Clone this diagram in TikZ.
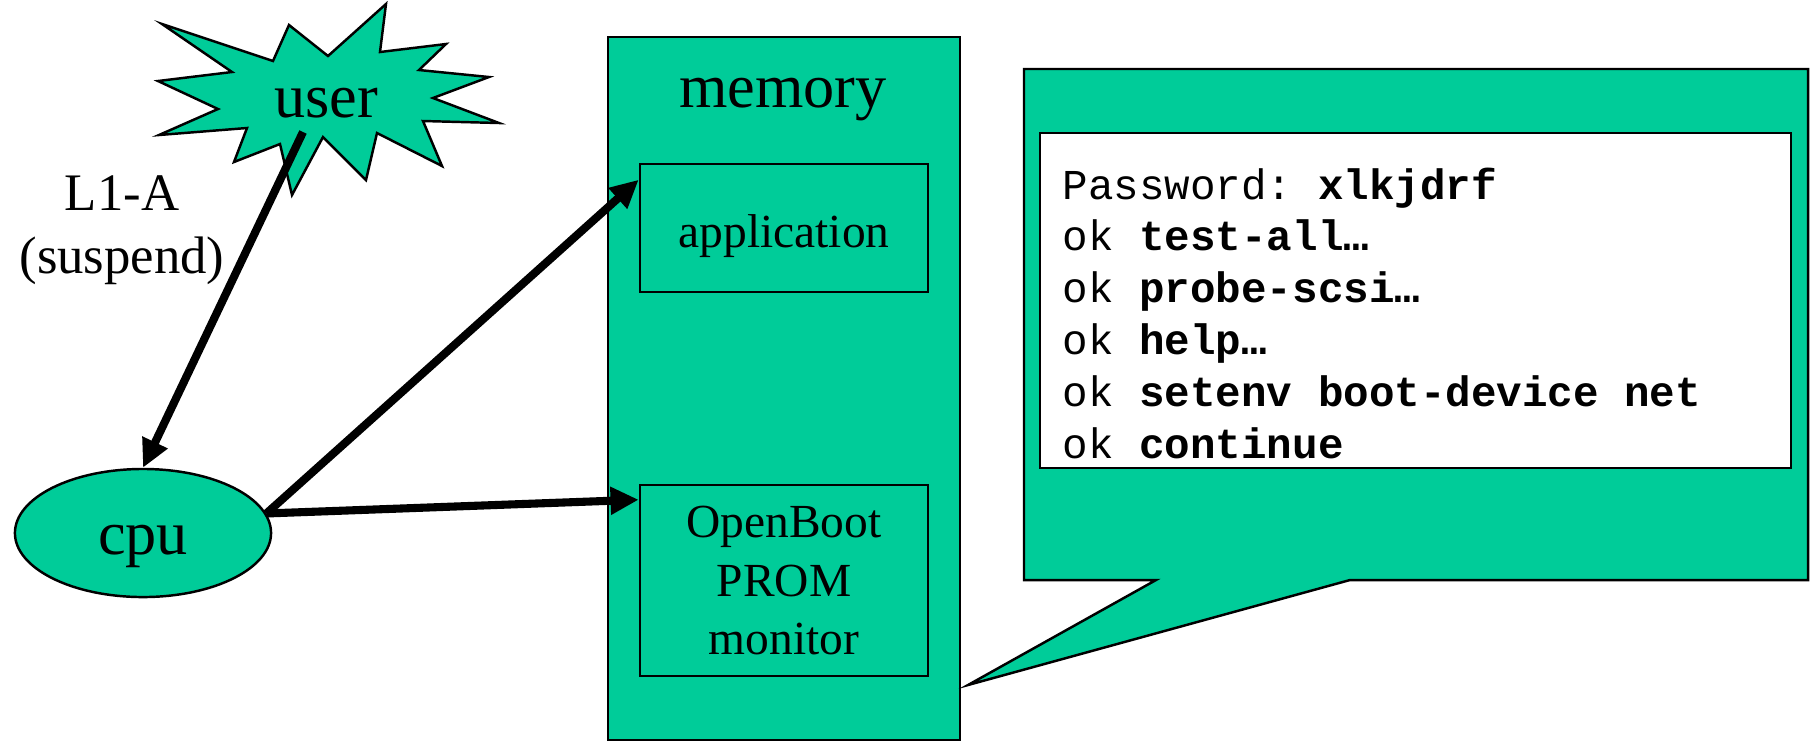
\documentclass[tikz,border=0pt]{standalone}
\usepackage{fontspec}
\setmainfont{Liberation Serif}
\setmonofont{Liberation Mono}
\usetikzlibrary{arrows.meta,shapes.geometric,calc}
\definecolor{memgreen}{RGB}{0,204,153}

\begin{document}
\begin{tikzpicture}[x=0.01cm, y=-0.01cm,
    greenbox/.style={draw, line width=0.7pt, fill=memgreen, inner sep=0pt},
    arr/.style={line width=2.3pt, -{Triangle[length=8pt,width=7.5pt]}},
    bigtext/.style={font=\fontsize{17.7}{21}\selectfont},
    midtext/.style={font=\fontsize{13.5}{16.5}\selectfont},
    termline/.style={anchor=base west, inner sep=0pt, font=\fontsize{12.1}{14.5}\selectfont\ttfamily}]
    \useasboundingbox (0,0) rectangle (1812,741);

    % User (starburst)
    \draw[line width=0.7pt, fill=memgreen]
        (162,24) -- (273,61) -- (289,25) -- (328,56) -- (386,4)
        -- (380,52) -- (446,44) -- (419,70) -- (489,77) -- (433,98)
        -- (499,123) -- (423,121) -- (442,166) -- (377,133) -- (366,180)
        -- (323,137) -- (292,195) -- (280,144) -- (234,162) -- (247,128)
        -- (159,135) -- (218,109) -- (158,81) -- (232,72) -- cycle;
    \node[bigtext, anchor=base] (user) at (326,117) {user};
    \coordinate (userfoot) at (303,132);

    % Key label
    \node[font=\fontsize{15}{18}\selectfont, align=center, anchor=north, inner sep=0pt]
        (keys) at (122,175) {L1-A\\(suspend)};

    % CPU
    \node[greenbox, ellipse, bigtext, minimum width=2.56cm, minimum height=1.28cm,
        text height=16pt] (cpu) at (143,533) {cpu};

    % Memory
    \node[greenbox, minimum width=3.52cm, minimum height=7.03cm] (memory) at (784,388.5) {};
    \node[bigtext, anchor=base] (memlabel) at (783,107) {memory};
    \node[greenbox, midtext, minimum width=2.88cm, minimum height=1.28cm,
        text height=14pt] (app) at (784,228) {application};
    \node[greenbox, midtext, align=center, minimum width=2.88cm, minimum height=1.91cm]
        (prom) at (784,580.5) {OpenBoot\\PROM\\monitor};

    % Connectors
    \draw[arr] (userfoot) -- (cpu.north);
    \draw[arr] (cpu.9) -- ($(app.north west)+(0,17)$);
    \draw[arr] (cpu.9) -- ($(prom.north west)+(0,16)$);

    % Monitor session (callout)
    \draw[line width=0.7pt, fill=memgreen]
        (1024,69) -- (1808,69) -- (1808,580) -- (1350,580)
        -- (968,685) -- (1156,580) -- (1024,580) -- cycle;
    \node[draw, line width=0.7pt, fill=white, minimum width=7.51cm, minimum height=3.35cm]
        (screen) at (1415.5,300.5) {};
    \node[termline] (pass) at (1062,199) {Password: \textbf{xlkjdrf}};
    \foreach \cmd [count=\i] in {test-all…, probe-scsi…, help…, setenv boot-device net, continue}
        \node[termline] (ok\i) at (1062,{199+51.8*\i}) {ok \textbf{\cmd}};
\end{tikzpicture}
\end{document}
